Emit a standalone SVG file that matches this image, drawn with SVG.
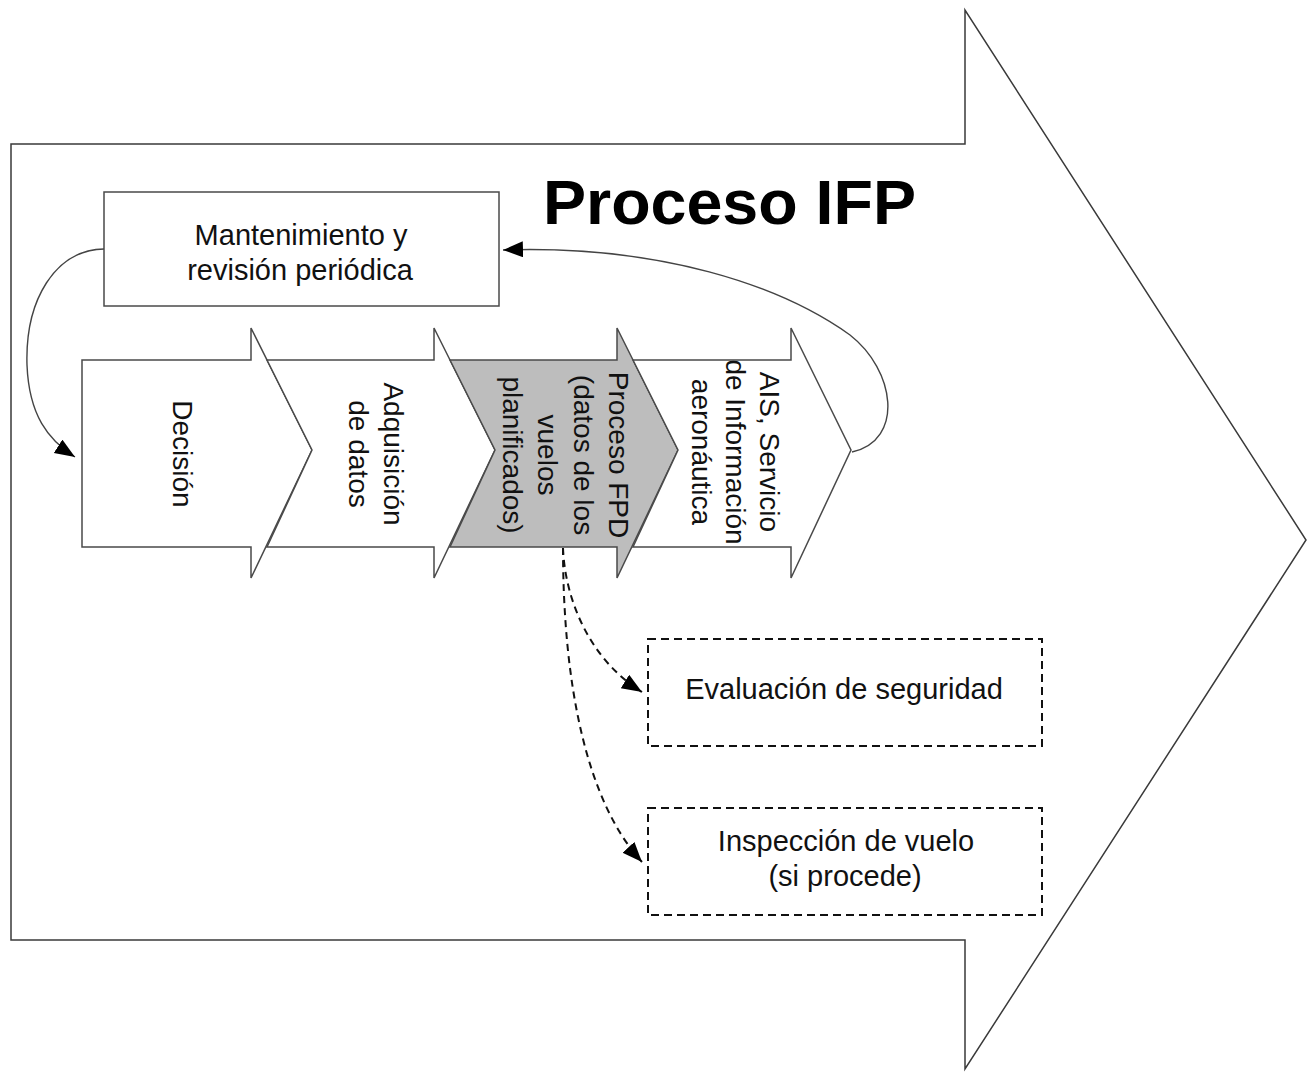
<svg xmlns="http://www.w3.org/2000/svg" width="1307" height="1072" viewBox="0 0 1307 1072">
  <style>
    .frame { fill: #ffffff; stroke: #3a3a3a; stroke-width: 1.5; stroke-linejoin: miter; }
    .step { fill: #ffffff; stroke: #4a4a4a; stroke-width: 1.5; stroke-linejoin: miter; }
    .step-hl { fill: #bdbdbd; stroke: #4a4a4a; stroke-width: 1.5; stroke-linejoin: miter; }
    .box { fill: #ffffff; stroke: #4a4a4a; stroke-width: 1.5; }
    .dbox { fill: #ffffff; stroke: #111111; stroke-width: 2; stroke-dasharray: 8 5; }
    .flow { fill: none; stroke: #444444; stroke-width: 1.4; }
    .dflow { fill: none; stroke: #111111; stroke-width: 2; stroke-dasharray: 7 5; }
    .lbl { font-family: "Liberation Sans", Arial, sans-serif; font-size: 29px; fill: #111111; text-anchor: middle; }
    .vlbl { font-family: "Liberation Sans", Arial, sans-serif; font-size: 28px; fill: #111111; text-anchor: middle; }
    .title { font-family: "Liberation Sans", Arial, sans-serif; font-size: 63px; font-weight: bold; fill: #000000; }
  </style>
  <defs>
    <marker id="head" markerUnits="userSpaceOnUse" markerWidth="24" markerHeight="18" refX="20" refY="8" orient="auto" viewBox="0 0 24 18">
      <path d="M0,0 L20,8 L0,16 Z" fill="#000000"/>
    </marker>
  </defs>

  <rect width="1307" height="1072" fill="#ffffff"/>

  <!-- overall process arrow -->
  <g id="proceso-ifp">
    <polygon class="frame" points="11,144 965,144 965,10 1306,540 965,1069 965,940 11,940"/>
    <text class="title" x="543" y="224" textLength="373" lengthAdjust="spacingAndGlyphs">Proceso IFP</text>
  </g>

  <!-- maintenance box -->
  <g id="mantenimiento">
    <rect class="box" x="104" y="192" width="395" height="114"/>
    <text class="lbl" x="301" y="245">Mantenimiento y</text>
    <text class="lbl" x="300" y="280">revisión periódica</text>
  </g>

  <!-- chevron steps -->
  <g id="decision">
    <polygon class="step" points="82,360 251,360 251,328 312,450 251,578 251,547 82,547"/>
    <text class="vlbl" transform="translate(173,454) rotate(90)">Decisión</text>
  </g>
  <g id="adquisicion">
    <polygon class="step" points="267,360 434,360 434,328 495,450 434,578 434,547 267,547 312,450"/>
    <text class="vlbl" transform="translate(384,454) rotate(90)"><tspan x="0" dy="0">Adquisición</tspan><tspan x="0" dy="35">de datos</tspan></text>
  </g>
  <g id="proceso-fpd">
    <polygon class="step-hl" points="450,360 617,360 617,328 678,450 617,578 617,547 450,547 495,450"/>
    <text class="vlbl" transform="translate(609,455) rotate(90)"><tspan x="0" dy="0">Proceso FPD</tspan><tspan x="0" dy="35.5">(datos de los</tspan><tspan x="0" dy="35.5">vuelos</tspan><tspan x="0" dy="35.5">planificados)</tspan></text>
  </g>
  <g id="ais">
    <polygon class="step" points="633,360 791,360 791,328 851,450 791,578 791,547 633,547 678,450"/>
    <text class="vlbl" transform="translate(760,452) rotate(90)"><tspan x="0" dy="0">AIS, Servicio</tspan><tspan x="0" dy="34">de Información</tspan><tspan x="0" dy="34">aeronáutica</tspan></text>
  </g>

  <!-- dashed follow-up boxes -->
  <g id="evaluacion">
    <rect class="dbox" x="648" y="639" width="394" height="107"/>
    <text class="lbl" x="844" y="699">Evaluación de seguridad</text>
  </g>
  <g id="inspeccion">
    <rect class="dbox" x="648" y="808" width="394" height="107"/>
    <text class="lbl" x="846" y="851">Inspección de vuelo</text>
    <text class="lbl" x="845" y="886">(si procede)</text>
  </g>

  <!-- connectors -->
  <g id="connectors">
    <path class="flow" d="M852,452 C905,440 895,370 850,335 C780,285 660,245 503,250" marker-end="url(#head)"/>
    <path class="flow" d="M104,249 C55,250 25,300 27,365 C29,415 48,440 75,457" marker-end="url(#head)"/>
    <path class="dflow" d="M563,548 C565,600 590,660 642,692" marker-end="url(#head)"/>
    <path class="dflow" d="M563,548 C563,680 585,800 642,862" marker-end="url(#head)"/>
  </g>
</svg>
